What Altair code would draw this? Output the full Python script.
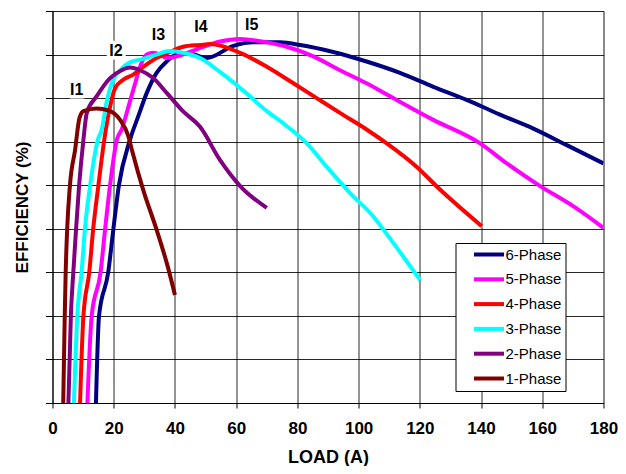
import altair as alt
import pandas as pd

# Load (A) and efficiency (%)
p6_x = [14.2, 15.2, 18.2, 19.9, 21.7, 25.3, 28.0, 30.8, 34.0, 37.3, 40.6, 44.9, 50.4, 59.1, 65.6, 74.3, 80.9, 91.7, 102.6, 113.5, 124.4, 135.3, 146.2, 157.1, 168.0, 180.0]
p6_y = [50.0, 60.0, 65.0, 70.0, 75.0, 80.2, 82.9, 85.6, 87.9, 89.2, 90.0, 90.1, 89.6, 91.0, 91.4, 91.4, 91.1, 90.3, 89.2, 87.9, 86.3, 84.8, 83.1, 81.5, 79.6, 77.5]

p5_x = [11.4, 12.8, 15.7, 17.2, 18.8, 21.0, 22.6, 24.8, 27.0, 28.6, 30.8, 32.9, 35.1, 37.3, 40.6, 44.9, 49.3, 54.7, 61.3, 70.0, 76.5, 85.2, 93.9, 102.6, 110.3, 124.4, 139.7, 148.4, 159.3, 170.1, 180.0]
p5_y = [50.0, 60.0, 65.0, 70.0, 75.0, 80.2, 81.4, 84.0, 86.7, 88.6, 90.0, 90.2, 90.0, 89.6, 89.8, 90.3, 90.9, 91.5, 91.8, 91.4, 90.9, 89.8, 88.2, 86.7, 85.2, 82.5, 79.8, 77.5, 74.9, 72.6, 70.1]

p4_x = [9.0, 10.1, 12.0, 13.3, 15.0, 16.9, 18.8, 20.4, 23.1, 26.4, 29.7, 34.0, 38.4, 42.7, 48.2, 51.5, 61.3, 70.0, 78.7, 86.3, 93.9, 102.6, 109.2, 119.0, 126.6, 140.2]
p4_y = [50.0, 60.0, 65.0, 70.0, 75.0, 80.2, 84.0, 86.1, 87.1, 87.7, 88.6, 89.6, 90.3, 90.9, 91.1, 91.2, 90.2, 88.6, 86.7, 85.0, 83.3, 81.4, 79.8, 77.1, 74.5, 70.3]

p3_x = [7.0, 8.1, 9.5, 10.6, 12.3, 14.8, 16.1, 17.7, 19.3, 22.1, 25.3, 29.7, 34.0, 38.4, 42.6, 48.2, 54.7, 64.5, 70.0, 75.4, 83.1, 89.6, 97.2, 104.8, 108.1, 120.1]
p3_y = [50.0, 60.0, 65.0, 70.0, 75.0, 80.2, 81.4, 84.6, 86.7, 88.2, 89.1, 89.5, 90.0, 90.4, 90.2, 89.6, 88.0, 85.2, 83.5, 82.1, 79.8, 77.1, 74.1, 71.4, 69.9, 64.1]

p2_x = [5.2, 6.0, 6.8, 7.7, 8.7, 10.1, 11.2, 14.4, 18.8, 22.6, 25.3, 28.6, 32.9, 37.3, 42.6, 48.2, 54.7, 61.3, 70.0]
p2_y = [50.0, 60.0, 65.0, 70.0, 75.0, 80.2, 83.3, 85.2, 87.3, 88.2, 88.5, 88.2, 87.3, 85.6, 83.5, 81.7, 77.9, 74.9, 72.4]

p1_x = [3.5, 4.0, 4.3, 4.8, 5.7, 7.4, 8.8, 10.1, 14.4, 18.2, 22.1, 24.8, 25.9, 29.6, 34.0, 37.7, 40.0]
p1_y = [50.0, 60.0, 64.9, 70.0, 75.0, 79.1, 82.7, 83.5, 83.8, 83.6, 82.5, 80.6, 79.1, 74.5, 69.9, 65.6, 62.4]

series_names = ["6-Phase", "5-Phase", "4-Phase", "3-Phase", "2-Phase", "1-Phase"]
series_colors = ["#000080", "#FF00FF", "#FF0000", "#00FFFF", "#800080", "#800000"]

label_text = ["I1", "I2", "I3", "I4", "I5"]
label_x = [7.9, 20.7, 34.6, 48.5, 65.1]
label_y = [85.9, 90.4, 92.3, 93.2, 93.4]

x_ticks = list(range(0, 181, 5))
y_ticks = list(range(50, 96, 5))

rows = []
for name, xs, ys in zip(series_names,
                        [p6_x, p5_x, p4_x, p3_x, p2_x, p1_x],
                        [p6_y, p5_y, p4_y, p3_y, p2_y, p1_y]):
    for i, (a, b) in enumerate(zip(xs, ys)):
        rows.append({"series": name, "load": a, "eff": b, "i": i})
df = pd.DataFrame(rows)
labels = pd.DataFrame({"t": label_text, "load": label_x, "eff": label_y})

FONT = "Liberation Sans"

xscale = alt.Scale(domain=[0, 180], nice=False, zero=False)
yscale = alt.Scale(domain=[50, 95], nice=False, zero=False)

lines = alt.Chart(df).mark_line(strokeWidth=4, interpolate="monotone", clip=True).encode(
    x=alt.X("load:Q", scale=xscale, title="LOAD (A)",
            axis=alt.Axis(values=x_ticks, grid=True, gridColor="#000000", gridOpacity=0.85,
                          labelExpr="datum.value % 20 === 0 ? datum.label : ''",
                          tickOpacity={"condition": {"test": "datum.value % 20 === 0", "value": 1}, "value": 0},
                          tickSize=5, tickColor="#000000", domainColor="#000000",
                          labelFont=FONT, labelFontSize=17, labelFontWeight="bold", labelColor="#000000",
                          labelPadding=12, labelFlush=False,
                          titleFont=FONT, titleFontSize=18, titleFontWeight="bold", titleColor="#000000",
                          titlePadding=12)),
    y=alt.Y("eff:Q", scale=yscale, title="EFFICIENCY (%)",
            axis=alt.Axis(values=y_ticks, grid=True, gridColor="#000000", gridOpacity=0.85,
                          labels=False, tickSize=7, tickColor="#000000", domainColor="#000000",
                          titleFont=FONT, titleFontSize=17, titleFontWeight="bold", titleColor="#000000",
                          titlePadding=14)),
    color=alt.Color("series:N",
                    scale=alt.Scale(domain=series_names, range=series_colors),
                    legend=alt.Legend(title=None, orient="none", legendX=403, legendY=232,
                                      symbolType="M-3,0H3", symbolSize=100, symbolStrokeWidth=4,
                                      symbolOffset=22,
                                      labelFont=FONT, labelFontSize=15, labelColor="#000000",
                                      labelExpr="datum.label + '\u00a0\u00a0\u00a0\u00a0\u00a0\u00a0\u00a0\u00a0'",
                                      labelOffset=9, rowPadding=7.8, padding=4,
                                      strokeColor="#000000", fillColor="#FFFFFF")),
    order="i:Q",
)

halo = alt.Chart(labels).mark_text(font=FONT, fontSize=16, fontWeight="bold", color="white",
                                   stroke="white", strokeWidth=7, strokeJoin="round").encode(
    x=alt.X("load:Q", scale=xscale), y=alt.Y("eff:Q", scale=yscale), text="t:N")
txt = alt.Chart(labels).mark_text(font=FONT, fontSize=16, fontWeight="bold", color="black").encode(
    x=alt.X("load:Q", scale=xscale), y=alt.Y("eff:Q", scale=yscale), text="t:N")

chart = alt.layer(halo, lines, txt).properties(
    width=551, height=392,
    autosize=alt.AutoSizeParams(type="none"),
    padding={"left": 44.5, "top": 3, "right": 14, "bottom": 63},
).configure_view(stroke=None).configure(background="white")

chart.save("out.html", embed_options={"renderer": "svg", "actions": False})
